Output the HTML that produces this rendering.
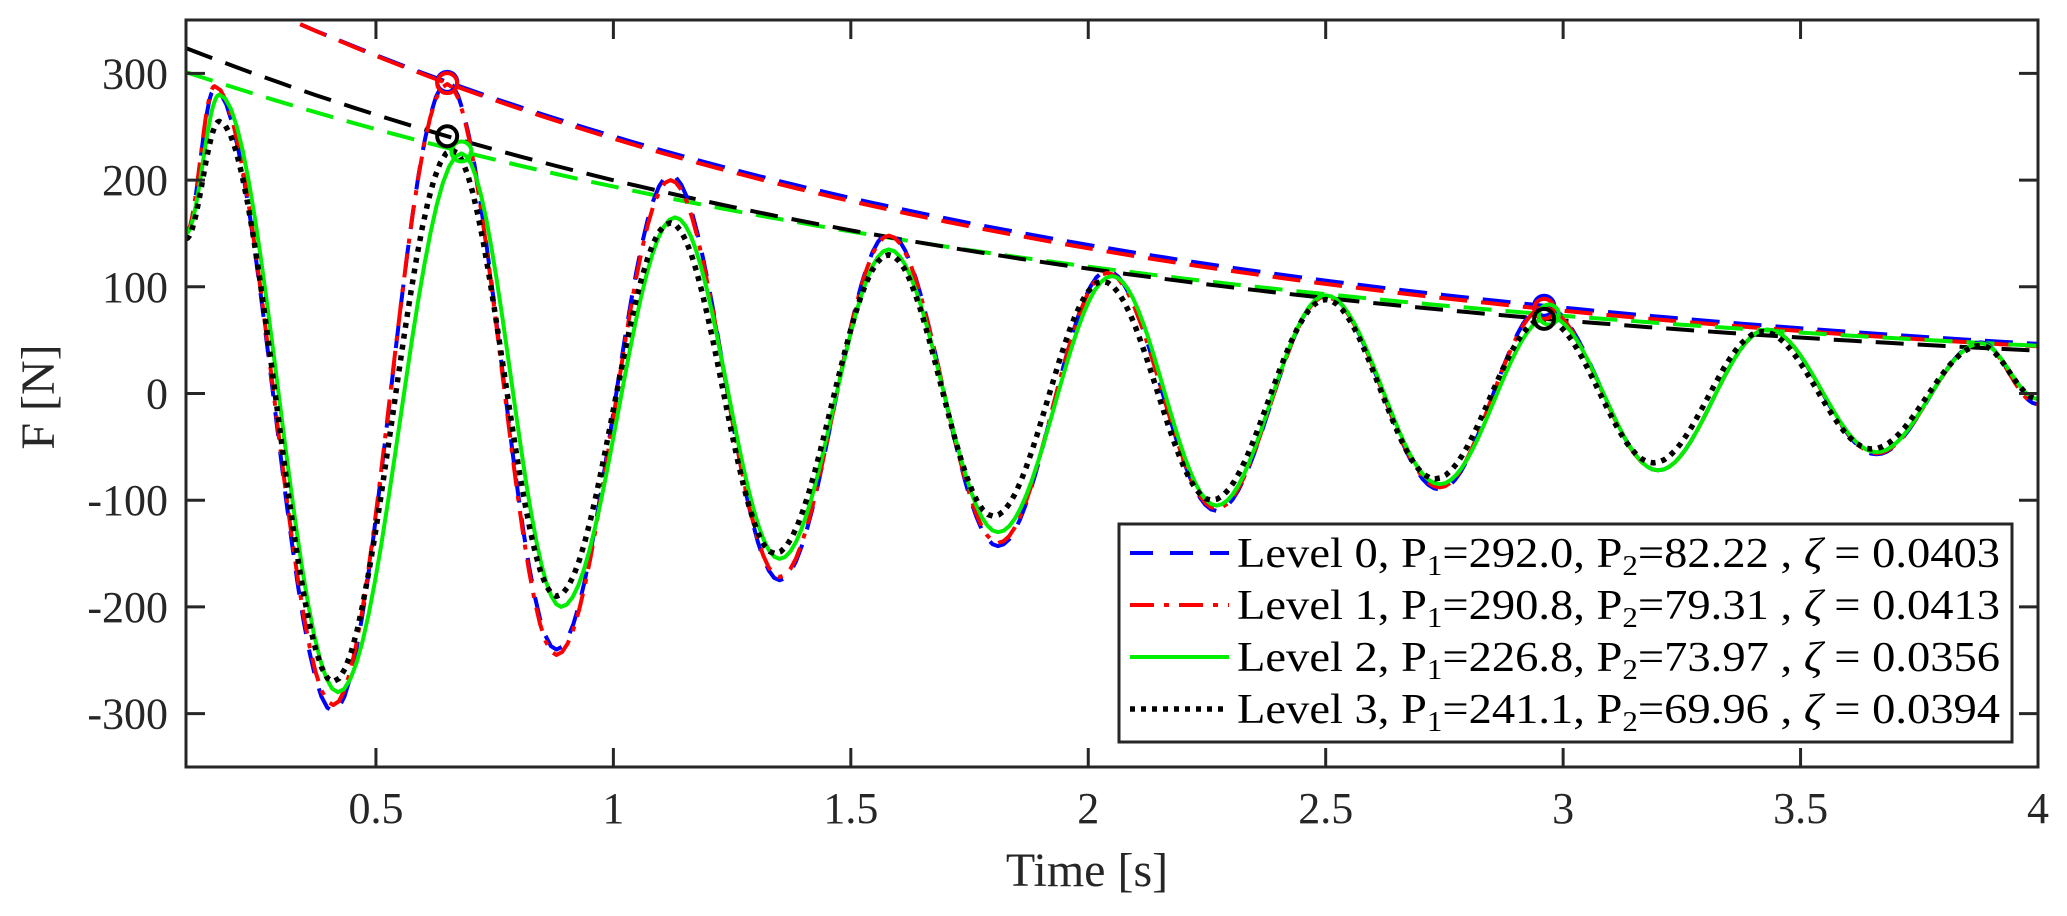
<!DOCTYPE html>
<html><head><meta charset="utf-8">
<style>
html,body{margin:0;padding:0;background:#fff;}
svg{display:block;font-family:"Liberation Serif",serif;}
</style></head>
<body>
<svg id="chart" width="2067" height="916" viewBox="0 0 2067 916" xmlns="http://www.w3.org/2000/svg">
<defs><clipPath id="plotclip"><rect x="186" y="20" width="1852" height="747"/></clipPath></defs>
<rect x="0" y="0" width="2067" height="916" fill="#fff"/>
<g id="series" clip-path="url(#plotclip)"></g>
<g id="axes"></g>
<g id="legend"></g>
</svg>
<script>
// ---- data ----
const xTicks = [0.5, 1, 1.5, 2, 2.5, 3, 3.5, 4];
const xTickLabels = ["0.5","1","1.5","2","2.5","3","3.5","4"];
const yTicks = [-300, -200, -100, 0, 100, 200, 300];
const yTickLabels = ["-300","-200","-100","0","100","200","300"];

// extrema (time, force) of each signal
const level0T = [0.1,0.16,0.41,0.65,0.88,1.12,1.35,1.58,1.81,2.04,2.27,2.50,2.74,2.96,3.20,3.43,3.66,3.88,4.0];
const level0F = [150,285,-298,292,-240,205,-175,150,-143,115,-110,92,-90,82,-72,60,-57,48,-10];
const level1T = [0.1,0.16,0.41,0.65,0.88,1.12,1.35,1.58,1.81,2.04,2.27,2.50,2.74,2.96,3.20,3.43,3.66,3.88,4.0];
const level1F = [150,288,-292,290,-245,200,-172,148,-140,113,-108,91,-88,80,-72,60,-56,47,-10];
const level2T = [0.1,0.17,0.42,0.68,0.89,1.13,1.35,1.58,1.81,2.05,2.27,2.50,2.74,2.97,3.20,3.43,3.66,3.88,4.0];
const level2F = [150,280,-280,225,-200,165,-155,135,-130,110,-105,92,-85,72,-72,60,-55,47,-5];
const level3T = [0.1,0.17,0.41,0.66,0.88,1.12,1.34,1.58,1.80,2.03,2.26,2.50,2.73,2.96,3.19,3.42,3.65,3.88,4.0];
const level3F = [145,255,-270,228,-190,160,-150,130,-115,105,-100,88,-80,70,-65,58,-52,45,-5];

// envelope anchor points (P1 at t1, P2 at t2)
const envP1 = [292.0, 290.8, 226.8, 241.1];
const envP2 = [82.22, 79.31, 73.97, 69.96];
const envT1 = [0.65, 0.65, 0.68, 0.65];
const envT2 = [2.96, 2.96, 2.97, 2.96];
const legendLevels = ["0","1","2","3"];
const legendP1 = ["292.0","290.8","226.8","241.1"];
const legendP2 = ["82.22","79.31","73.97","69.96"];
const legendZeta = ["0.0403","0.0413","0.0356","0.0394"];

// ---- scales ----
const X0=186, X1=2038, Y0=767, Y1=20;
const xMin=0.1, xMax=4, yMin=-350, yMax=350;
function sx(t){return X0+(t-xMin)/(xMax-xMin)*(X1-X0);}
function sy(v){return Y0-(v-yMin)/(yMax-yMin)*(Y0-Y1);}

const NS="http://www.w3.org/2000/svg";
function mk(tag, attrs, parent){const e=document.createElementNS(NS,tag);for(const k in attrs)e.setAttribute(k,attrs[k]);parent.appendChild(e);return e;}

const colors=["#0000ff","#ff0000","#00ee00","#000000"];
const dashes=["24 16","24 10 5 10","","5 6"];
const allT=[level0T,level1T,level2T,level3T];
const allF=[level0F,level1F,level2F,level3F];
const series=document.getElementById('series');

// envelopes
for(let i=0;i<4;i++){
  const k=Math.log(envP1[i]/envP2[i])/(envT2[i]-envT1[i]);
  let d="";
  for(let j=0;j<=100;j++){const t=xMin+(xMax-xMin)*j/100;const v=envP1[i]*Math.exp(-k*(t-envT1[i]));d+=(j?"L":"M")+sx(t).toFixed(1)+","+sy(v).toFixed(1);}
  const p=mk('path',{d:d,fill:'none',stroke:colors[i],'stroke-width':4,'stroke-dasharray':'28 14'},series);
  
  
}
// signals
for(let i=0;i<4;i++){
  const T=allT[i],F=allF[i];let d="M"+sx(T[0]).toFixed(1)+","+sy(F[0]).toFixed(1);
  for(let j=0;j<T.length-1;j++){
    for(let s=1;s<=20;s++){const u=s/20;const w=(1-Math.cos(Math.PI*u))/2;
      const t=T[j]+(T[j+1]-T[j])*u;const v=F[j]+(F[j+1]-F[j])*w;
      d+="L"+sx(t).toFixed(1)+","+sy(v).toFixed(1);}
  }
  const a={d:d,fill:'none',stroke:colors[i],'stroke-width':i==3?5.5:4,'stroke-linejoin':'round'};
  if(dashes[i])a['stroke-dasharray']=dashes[i];
  const p=mk('path',a,series);
  
  
}
// markers
for(let i=0;i<4;i++){
  [[envT1[i],envP1[i]],[envT2[i],envP2[i]]].forEach((pt,m)=>{
    const c=mk('circle',{cx:sx(pt[0]),cy:sy(pt[1]),r:10,fill:'none',stroke:colors[i],'stroke-width':4},series);
    
    
  });
}

// axes
const axes=document.getElementById('axes');
const box=mk('rect',{x:X0,y:Y1,width:X1-X0,height:Y0-Y1,fill:'none',stroke:'#262626','stroke-width':3},axes);


xTicks.forEach((t,i)=>{
  mk('line',{x1:sx(t),x2:sx(t),y1:Y0,y2:Y0-19,stroke:'#262626','stroke-width':3},axes);
  mk('line',{x1:sx(t),x2:sx(t),y1:Y1,y2:Y1+19,stroke:'#262626','stroke-width':3},axes);
  const tx=mk('text',{x:sx(t),y:823,'text-anchor':'middle','font-size':44,fill:'#262626'},axes);
  tx.textContent=xTickLabels[i];
  
  
});
yTicks.forEach((v,i)=>{
  mk('line',{x1:X0,x2:X0+19,y1:sy(v),y2:sy(v),stroke:'#262626','stroke-width':3},axes);
  mk('line',{x1:X1,x2:X1-19,y1:sy(v),y2:sy(v),stroke:'#262626','stroke-width':3},axes);
  const tx=mk('text',{x:168,y:sy(v)+15,'text-anchor':'end','font-size':44,fill:'#262626'},axes);
  tx.textContent=yTickLabels[i];
  
  
});
const xl=mk('text',{x:1087,y:886,'text-anchor':'middle','font-size':48,fill:'#262626'},axes);
xl.textContent="Time [s]";


const yl=mk('text',{x:0,y:0,'text-anchor':'middle','font-size':48,fill:'#262626',transform:'translate(54,397) rotate(-90)'},axes);
yl.textContent="F [N]";



// legend
const lg=document.getElementById('legend');
const lb=mk('rect',{x:1119,y:524,width:893,height:218,fill:'#fff',stroke:'#262626','stroke-width':3},lg);


for(let i=0;i<4;i++){
  const cy=553+i*52;
  const g=mk('g',{},lg);
  
  
  const a={x1:1130,x2:1229,y1:cy,y2:cy,stroke:colors[i],'stroke-width':i==3?5.5:4};
  if(dashes[i])a['stroke-dasharray']=i==0?'23 17':dashes[i];
  mk('line',a,g);
  const t=mk('text',{x:1237,y:cy+14,'font-size':42,fill:'#000',textLength:763,lengthAdjust:'spacingAndGlyphs'},g);
  t.innerHTML='Level '+legendLevels[i]+', P<tspan font-size="28" dy="8">1</tspan><tspan dy="-8">='+legendP1[i]+', P</tspan><tspan font-size="28" dy="8">2</tspan><tspan dy="-8">='+legendP2[i]+' , <tspan font-style="italic">ζ</tspan> = '+legendZeta[i]+'</tspan>';
}
</script>
</body></html>
